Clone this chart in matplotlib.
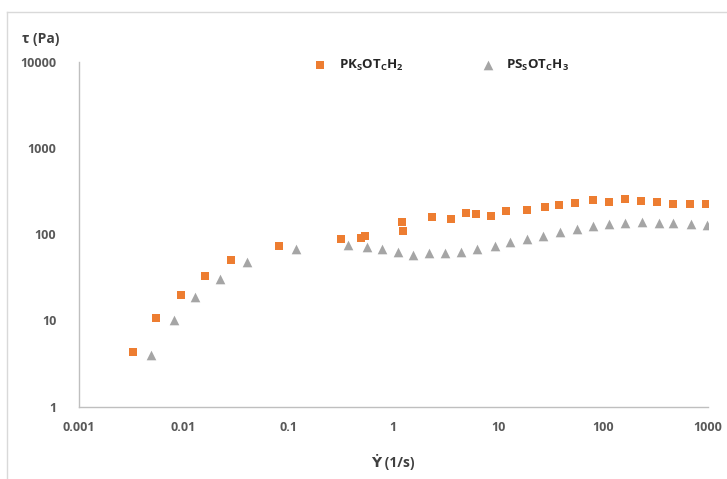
"""Shear stress vs shear rate for two samples, log-log scatter (Excel style)."""

import matplotlib
matplotlib.use("Agg")
import matplotlib.pyplot as plt
from matplotlib.lines import Line2D
from matplotlib.ticker import FixedLocator, FixedFormatter, NullLocator


# shear rate (1/s) and shear stress (Pa)
pk_rate = [0.00327, 0.00545, 0.00942, 0.0159, 0.0284, 0.082, 0.32, 0.495, 0.535,
           1.21, 1.25, 2.34, 3.57, 4.92, 6.13, 8.52, 11.9, 18.9, 28.0, 37.8,
           53.7, 79.8, 113, 160, 230, 329, 468, 674, 964]
pk_stress = [4.26, 10.7, 19.7, 33.0, 50.5, 73.4, 88.5, 90.1, 96.6,
             138, 109, 160, 150, 178, 171, 163, 188, 193, 209, 217,
             233, 248, 237, 255, 244, 237, 227, 227, 227]

ps_rate = [0.00495, 0.0082, 0.0129, 0.0224, 0.0405, 0.119, 0.367, 0.562, 0.776,
           1.12, 1.53, 2.19, 3.08, 4.44, 6.31, 9.22, 13.0, 18.8, 26.7, 38.9,
           55.7, 80.3, 114, 163, 232, 339, 468, 684, 985]
ps_stress = [4.01, 10.0, 18.7, 30.2, 47.9, 67.2, 76.0, 71.5, 67.2,
             62.1, 57.7, 59.8, 60.9, 62.5, 67.7, 74.0, 82.3, 87.7, 95.8, 106,
             116, 124, 133, 136, 140, 136, 134, 130, 127]

x_ticks = [0.001, 0.01, 0.1, 1, 10, 100, 1000]
x_tick_labels = ["0.001", "0.01", "0.1", "1", "10", "100", "1000"]
y_ticks = [1, 10, 100, 1000, 10000]
y_tick_labels = ["1", "10", "100", "1000", "10000"]

ORANGE = "#ED7D31"
GRAY = "#A5A5A5"
TEXT = "#595959"
FONT = ["Open Sans", "DejaVu Sans"]

plt.rcParams["font.family"] = FONT
plt.rcParams["mathtext.fontset"] = "custom"
plt.rcParams["mathtext.rm"] = "Open Sans"
plt.rcParams["mathtext.bf"] = "Open Sans:bold"

fig = plt.figure(figsize=(7.27, 4.79), dpi=100)
ax = fig.add_axes([0.108, 0.151, 0.866, 0.720])

ax.scatter(pk_rate, pk_stress, marker="s", s=36, color=ORANGE, linewidths=0,
           label=r"$\mathbf{PK_{S}OT_{C}H_{2}}$", zorder=3)
ax.scatter(ps_rate, ps_stress, marker="^", s=48, color=GRAY, linewidths=0,
           label=r"$\mathbf{PS_{S}OT_{C}H_{3}}$", zorder=3)

ax.set_xscale("log")
ax.set_yscale("log")
ax.set_xlim(0.001, 1000)
ax.set_ylim(1, 10000)

ax.xaxis.set_major_locator(FixedLocator(x_ticks))
ax.xaxis.set_major_formatter(FixedFormatter(x_tick_labels))
ax.xaxis.set_minor_locator(NullLocator())
ax.yaxis.set_major_locator(FixedLocator(y_ticks))
ax.yaxis.set_major_formatter(FixedFormatter(y_tick_labels))
ax.yaxis.set_minor_locator(NullLocator())

ax.tick_params(length=0, labelsize=9, labelcolor=TEXT)
ax.tick_params(axis="x", pad=10)
ax.tick_params(axis="y", pad=16)
for lab in ax.get_xticklabels() + ax.get_yticklabels():
    lab.set_fontweight("bold")

for side in ["top", "right"]:
    ax.spines[side].set_visible(False)
for side in ["left", "bottom"]:
    ax.spines[side].set_color("#BFBFBF")
    ax.spines[side].set_linewidth(1.0)

fig.text(0.030, 0.918, "τ (Pa)", fontsize=10, fontweight="bold", color="#404040",
         ha="left", va="center")
fig.text(0.541, 0.035, "Ẏ (1/s)", fontsize=10, fontweight="bold", color="#404040",
         ha="center", va="center")

leg = ax.legend(loc="center", bbox_to_anchor=(0.573, 0.99), ncol=2, frameon=False,
                fontsize=9.5, columnspacing=5.6, handletextpad=0.6,
                handlelength=1.6, scatterpoints=1)
for text in leg.get_texts():
    text.set_color("#262626")

# light chart frame (left and top edges show in the crop)
fig.add_artist(Line2D([0.0103, 0.0103], [0.0, 0.975], color="#D9D9D9", linewidth=1.0))
fig.add_artist(Line2D([0.0103, 1.0], [0.975, 0.975], color="#D9D9D9", linewidth=1.0))

fig.savefig("out.png", dpi=100)
plt.close(fig)
